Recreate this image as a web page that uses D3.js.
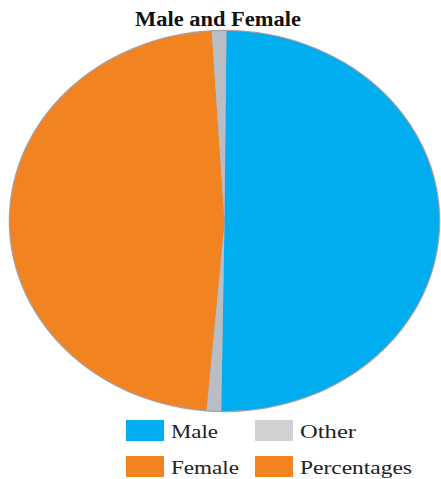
<!DOCTYPE html>
<html>
<head>
<meta charset="utf-8">
<script src="https://cdn.jsdelivr.net/npm/d3@7"></script>
<style>
  html, body { margin: 0; padding: 0; background: #fff; }
  svg { display: block; }
</style>
</head>
<body>
<svg id="chart" width="441" height="479"></svg>
<script>
// Slices, clockwise from twelve o'clock
const sliceNames = ["Male", "Other", "Female", "Other"];
const sliceValues = [50.1, 1.1, 47.7, 1.1];

// Legend entries
const legendNames = ["Male", "Other", "Female", "Percentages"];

const colors = {
  Male: "#00aeef",
  Other: "#babdc3",
  Female: "#f28321",
  Percentages: "#f28321"
};
const legendColors = {
  Male: "#00aeef",
  Other: "#d0d1d3",
  Female: "#f28321",
  Percentages: "#f28321"
};
// Set widths for the wide book-style serif lettering
const legendWidths = { Male: 47, Other: 56, Female: 68, Percentages: 112 };

const svg = d3.select("#chart");

// Title
svg.append("text")
  .attr("x", 218)
  .attr("y", 26)
  .attr("text-anchor", "middle")
  .attr("font-family", "Liberation Serif, serif")
  .attr("font-weight", "bold")
  .attr("font-size", 20)
  .attr("textLength", 166)
  .attr("lengthAdjust", "spacingAndGlyphs")
  .attr("fill", "#111")
  .text("Male and Female");

// Elliptical pie: drawn on a unit circle, then stretched
const cx = 224.5, cy = 221, rx = 214.5, ry = 190;
const R = 100;
const startA = 0.009;
const pie = d3.pie().sort(null).startAngle(startA).endAngle(startA + 2 * Math.PI);
const arc = d3.arc().innerRadius(0).outerRadius(R);
const arcs = pie(sliceValues);

const g = svg.append("g")
  .attr("transform", `translate(${cx},${cy}) scale(${rx / R},${ry / R})`);

// Soft rim behind the pie
g.append("ellipse")
  .attr("cx", 0).attr("cy", 0)
  .attr("rx", R + 0.6).attr("ry", R + 0.6)
  .attr("fill", "#a89ea6");

g.selectAll("path.slice")
  .data(arcs)
  .join("path")
  .attr("class", "slice")
  .attr("d", arc)
  .attr("fill", (d, i) => colors[sliceNames[i]]);

// Legend
const legend = svg.append("g");
const cols = [126, 255];
const rows = [420, 456];
legendNames.forEach((name, i) => {
  const x = cols[i % 2], y = rows[Math.floor(i / 2)];
  legend.append("rect")
    .attr("x", x).attr("y", y)
    .attr("width", 38).attr("height", 21)
    .attr("fill", legendColors[name]);
  legend.append("text")
    .attr("x", x + 45).attr("y", y + 18)
    .attr("font-family", "Liberation Serif, serif")
    .attr("font-size", 19)
    .attr("textLength", legendWidths[name])
    .attr("lengthAdjust", "spacingAndGlyphs")
    .attr("fill", "#222")
    .text(name);
});
</script>
</body>
</html>
